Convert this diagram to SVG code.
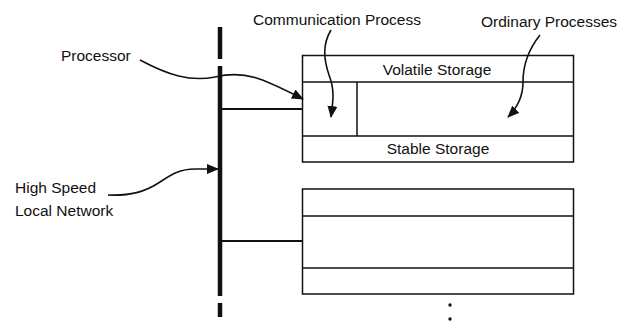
<svg xmlns="http://www.w3.org/2000/svg" width="629" height="329" viewBox="0 0 629 329">
<style>
text{font-family:"Liberation Sans",Arial,sans-serif;font-size:15.5px;fill:#111}
.box{fill:none;stroke:#111;stroke-width:1.5}
.bus{stroke:#111;stroke-width:4.5;fill:none}
.link{stroke:#111;stroke-width:2.2;fill:none}
.curve{stroke:#111;stroke-width:1.6;fill:none;marker-end:url(#ah)}
</style>
<defs>
<marker id="ah" markerUnits="userSpaceOnUse" markerWidth="12" markerHeight="10" refX="11" refY="5" orient="auto">
<path d="M0,0 L12,5 L0,10 z" fill="#111"/>
</marker>
</defs>
<rect width="629" height="329" fill="#fff"/>
<g id="network">
<line class="bus" x1="220" y1="27" x2="220" y2="59"/>
<line class="bus" x1="220" y1="66" x2="220" y2="296"/>
<line class="bus" x1="220" y1="303" x2="220" y2="317"/>
</g>
<g id="node1">
<rect class="box" x="302.5" y="55.5" width="271" height="106.5"/>
<line class="box" x1="302.5" y1="82" x2="573.5" y2="82"/>
<line class="box" x1="302.5" y1="136" x2="573.5" y2="136"/>
<line class="box" x1="357" y1="82" x2="357" y2="136"/>
<text x="437" y="75" text-anchor="middle">Volatile Storage</text>
<text x="438" y="154" text-anchor="middle">Stable Storage</text>
</g>
<g id="node2">
<rect class="box" x="302.5" y="189" width="271" height="105"/>
<line class="box" x1="302.5" y1="216" x2="573.5" y2="216"/>
<line class="box" x1="302.5" y1="268" x2="573.5" y2="268"/>
</g>
<g id="ellipsis">
<circle cx="450" cy="305" r="1.7" fill="#111"/>
<circle cx="450" cy="319" r="1.7" fill="#111"/>
</g>
<g id="labels">
<text x="253" y="25">Communication Process</text>
<text x="481" y="27">Ordinary Processes</text>
<text x="61" y="61">Processor</text>
<text x="15" y="193">High Speed</text>
<text x="15" y="216">Local Network</text>
</g>
<g id="connectors">
<line class="link" x1="222" y1="109" x2="303" y2="109"/>
<line class="link" x1="222" y1="241" x2="303" y2="241"/>
<path class="curve" d="M140,60 C168,75 190,82 215,77 C245,70 262,78 303,99"/>
<path class="curve" d="M108,195 C130,196 145,192 160,182 C172,174 180,169 195,169 L218,169"/>
<path class="curve" d="M331,30 C322,45 324,60 329,75 C335,90 333,102 331,117"/>
<path class="curve" d="M540,35 C528,50 523,65 523,82 C523,97 517,108 508,117"/>
</g>
</svg>
